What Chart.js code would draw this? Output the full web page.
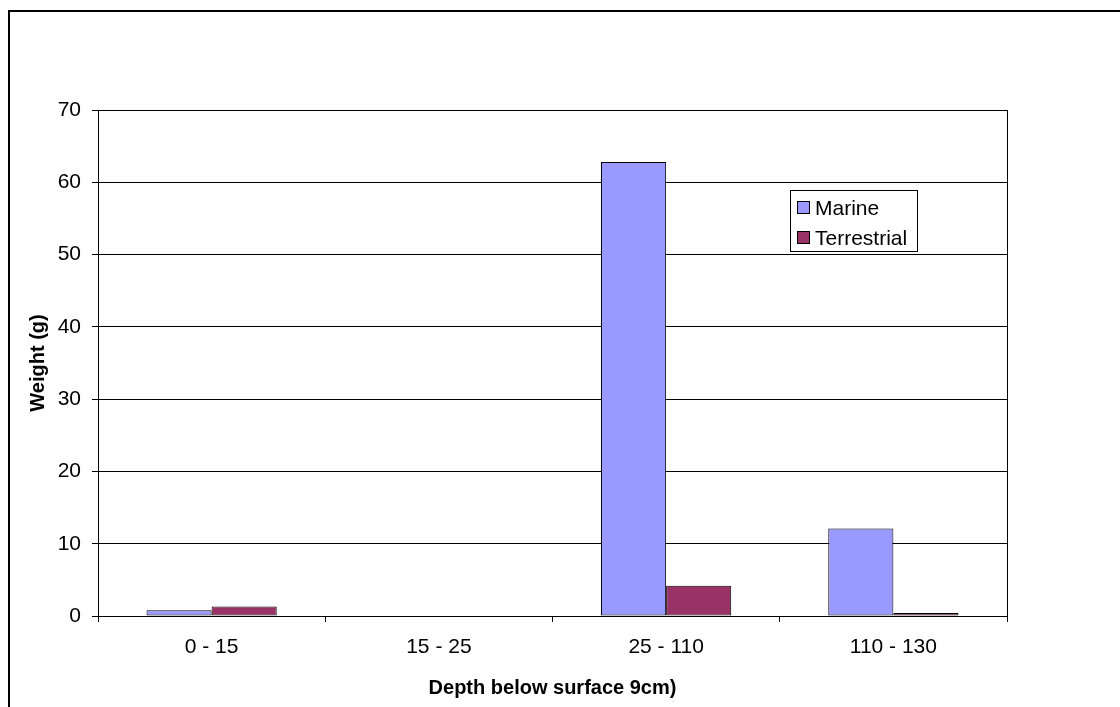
<!DOCTYPE html>
<html>
<head>
<meta charset="utf-8">
<script src="https://cdn.jsdelivr.net/npm/chart.js@4.4.1/dist/chart.umd.min.js"></script>
<style>
  html, body { margin: 0; padding: 0; background: #ffffff; }
  #wrap { width: 1120px; height: 707px; position: relative; }
</style>
</head>
<body>
<div id="wrap"><canvas id="c" width="1120" height="707"></canvas></div>
<script>
// Depth intervals (cm) and weights (g) of shell by origin
const categories = ['0 - 15', '15 - 25', '25 - 110', '110 - 130'];
const marine = [0.8, 0, 62.8, 12.1];
const terrestrial = [1.3, 0, 4.2, 0.4];
const yTicks = [0, 10, 20, 30, 40, 50, 60, 70];
const seriesNames = ['Marine', 'Terrestrial'];

const FONT = "Arial, 'Liberation Sans', Helvetica, sans-serif";

// Frame around the whole figure, border round the plot area and the boxed legend
const decorations = {
  id: 'decorations',
  beforeDraw(chart) {
    const ctx = chart.ctx;
    ctx.save();
    ctx.fillStyle = '#ffffff';
    ctx.fillRect(0, 0, chart.width, chart.height);
    ctx.restore();
  },
  afterDraw(chart) {
    const ctx = chart.ctx;
    const a = chart.chartArea;
    ctx.save();
    // outer frame
    ctx.strokeStyle = '#000000';
    ctx.lineWidth = 2;
    ctx.strokeRect(9, 11, chart.width + 20, chart.height + 20);
    // plot area border
    ctx.lineWidth = 1;
    ctx.strokeRect(Math.round(a.left) + 0.5, Math.round(a.top) + 0.5,
                   Math.round(a.right - a.left), Math.round(a.bottom - a.top));
    // legend
    const lx = 790.5, ly = 190.5, lw = 127, lh = 61;
    ctx.fillStyle = '#ffffff';
    ctx.fillRect(lx, ly, lw, lh);
    ctx.strokeStyle = '#000000';
    ctx.strokeRect(lx, ly, lw, lh);
    ctx.font = '21px ' + FONT;
    ctx.textBaseline = 'middle';
    ctx.textAlign = 'left';
    chart.data.datasets.forEach((ds, i) => {
      const cy = 208 + i * 30;
      ctx.fillStyle = ds.backgroundColor;
      ctx.fillRect(797.5, cy - 6.5, 12, 12);
      ctx.strokeStyle = '#000000';
      ctx.strokeRect(797.5, cy - 6.5, 12, 12);
      ctx.fillStyle = '#000000';
      ctx.fillText(ds.label, 815, cy + 1);
    });
    ctx.restore();
  }
};

new Chart(document.getElementById('c'), {
  type: 'bar',
  data: {
    labels: categories,
    datasets: [
      {
        label: seriesNames[0],
        data: marine,
        backgroundColor: '#9999FF',
        borderColor: '#000000',
        borderWidth: 1,
        borderSkipped: false
      },
      {
        label: seriesNames[1],
        data: terrestrial,
        backgroundColor: '#993366',
        borderColor: '#000000',
        borderWidth: 1,
        borderSkipped: false
      }
    ]
  },
  options: {
    responsive: false,
    animation: false,
    devicePixelRatio: 1,
    layout: { padding: { left: 0, top: 110, right: 113, bottom: 0 } },
    datasets: { bar: { categoryPercentage: 0.573, barPercentage: 1.0 } },
    plugins: {
      legend: { display: false },
      tooltip: { enabled: false }
    },
    scales: {
      x: {
        afterFit(scale) { scale.height = 91; },
        grid: {
          offset: true,
          drawOnChartArea: false,
          drawTicks: true,
          tickLength: 6,
          color: '#000000'
        },
        border: { display: true, color: '#000000', width: 1 },
        ticks: {
          color: '#000000',
          font: { family: FONT, size: 21 },
          padding: 13,
          maxRotation: 0
        },
        title: {
          display: true,
          text: 'Depth below surface 9cm)',
          color: '#000000',
          font: { family: FONT, size: 20, weight: 'bold' },
          padding: { top: 0, bottom: 7 }
        }
      },
      y: {
        min: 0,
        max: 70,
        afterFit(scale) { scale.width = 98; },
        afterBuildTicks(scale) { scale.ticks = yTicks.map(v => ({ value: v })); },
        grid: {
          drawTicks: true,
          tickLength: 6,
          color: '#000000',
          lineWidth: 1
        },
        border: { display: true, color: '#000000', width: 1 },
        ticks: {
          color: '#000000',
          font: { family: FONT, size: 21 },
          padding: 11
        },
        title: {
          display: true,
          text: 'Weight (g)',
          color: '#000000',
          font: { family: FONT, size: 20, weight: 'bold' },
          padding: { top: 26, bottom: 0 }
        }
      }
    }
  },
  plugins: [decorations]
});
</script>
</body>
</html>
